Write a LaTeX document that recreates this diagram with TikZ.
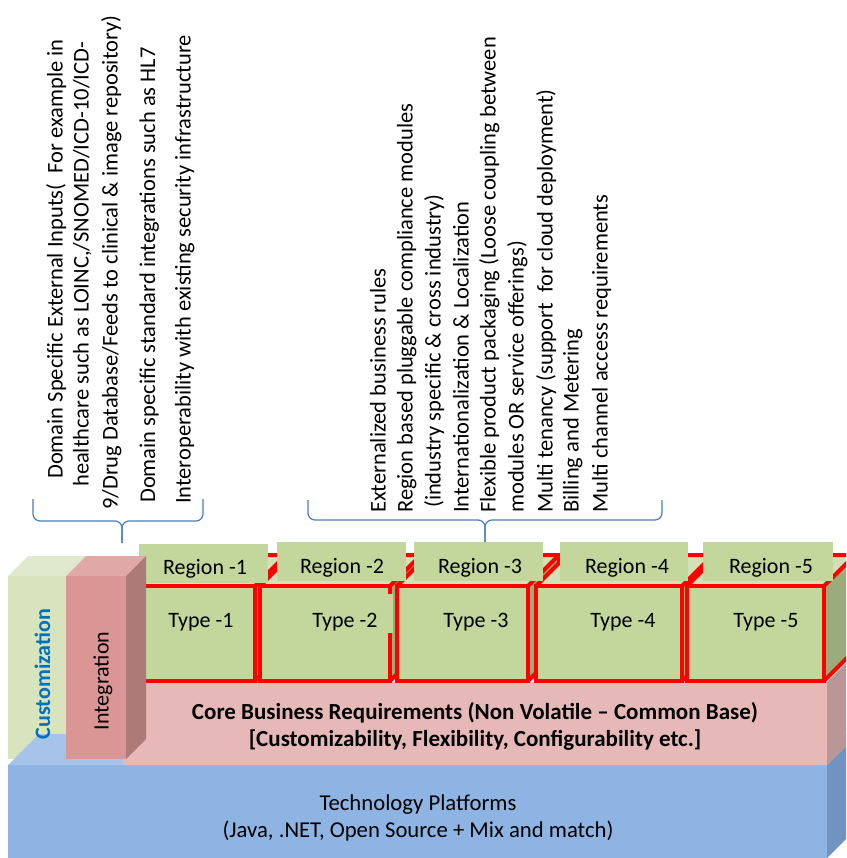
\documentclass[tikz,border=0pt]{standalone}
\usepackage{fontspec}
\setmainfont{Carlito}
\definecolor{gfront}{HTML}{C3D69B}
\definecolor{gtop}{HTML}{D3E1B6}
\definecolor{gside}{HTML}{9BAB7A}
\definecolor{custfront}{HTML}{D7E4BD}
\definecolor{custtop}{HTML}{E0E9CE}
\definecolor{intfront}{HTML}{D99694}
\definecolor{inttop}{HTML}{E0A9A7}
\definecolor{intside}{HTML}{AE7A77}
\definecolor{pinkfront}{HTML}{E6B9B8}
\definecolor{pinkside}{HTML}{B99796}
\definecolor{bluefront}{HTML}{8EB4E3}
\definecolor{bluetop}{HTML}{A6C3EA}
\definecolor{blueside}{HTML}{7093BF}
\definecolor{bracecol}{HTML}{4A7EBB}
\definecolor{custtext}{HTML}{0070C0}
\tikzset{
  redline/.style={draw=red, line width=4pt, line join=miter},
  vtext/.style={rotate=90, anchor=base west, inner sep=0pt, font=\fontsize{22.5}{27}\selectfont},
  lbl/.style={anchor=base, inner sep=0pt, font=\fontsize{22}{26}\selectfont},
  techlbl/.style={anchor=base, inner sep=0pt, font=\fontsize{22.7}{27}\selectfont},
  boldlbl/.style={anchor=base, inner sep=0pt, font=\bfseries\fontsize{23}{27}\selectfont},
  bracestyle/.style={draw=bracecol, line width=1.2pt, rounded corners=7pt}
}
\begin{document}
\begin{tikzpicture}[x=1pt,y=-1pt]
\useasboundingbox (0,0) rectangle (846,858);
\begin{scope}
\clip (0,0) rectangle (846,858);
% Customization pillar
\fill[custtop] (8,576) -- (28,556) -- (86,556) -- (66,576) -- cycle;
\fill[custfront] (8,576) rectangle (66,759);
% Technology platform block
\fill[bluefront] (8,765) rectangle (827,858);
\fill[bluetop] (8,765) -- (39,734) -- (858,734) -- (827,765) -- cycle;
\fill[blueside] (827,765) -- (858,734) -- (858,827) -- (827,858) -- cycle;
% Core business block
\fill[pinkfront] (123,682) rectangle (827,765);
\fill[pinkside] (827,682) -- (858,651) -- (858,734) -- (827,765) -- cycle;
% Type cubes
\foreach \l/\r in {139/255, 260/390, 397/528, 536/682, 687/824} {
  \fill[gside] (\r,586) -- (\r+31,555) -- (\r+31,650) -- (\r,681) -- cycle;
  \fill[gtop] (\l,586) -- (\l+31,555) -- (\r+31,555) -- (\r,586) -- cycle;
  \fill[gfront] (\l,586) rectangle (\r,681);
  \draw[redline] (\l,586) rectangle (\r,681);
  \draw[redline] (\l,586) -- (\l+31,555) -- (\r+31,555) -- (\r+31,650) -- (\r,681);
  \draw[redline] (\r,586) -- (\r+31,555);
}
\fill[gfront] (386,594) rectangle (393,633);
% Region label boxes
\fill[gfront] (139,544) rectangle (268,583);
\fill[gfront] (277,542) rectangle (406,581);
\fill[gfront] (414,542) rectangle (543,581);
\fill[gfront] (560,542) rectangle (688,581);
\fill[gfront] (703,542) rectangle (833,581);
% Integration pillar
\fill[inttop] (66,576) -- (86,556) -- (146,556) -- (126,576) -- cycle;
\fill[intfront] (66,576) rectangle (126,759);
\fill[intside] (126,576) -- (146,556) -- (146,739) -- (126,759) -- cycle;
\end{scope}

% Labels on blocks
\node[lbl] (r1) at (205,574) {Region -1};
\node[lbl] (r2) at (342,573) {Region -2};
\node[lbl] (r3) at (480,573) {Region -3};
\node[lbl] (r4) at (627,573) {Region -4};
\node[lbl] (r5) at (771,573) {Region -5};
\node[lbl] (t1) at (201,627) {Type -1};
\node[lbl] (t2) at (345,627) {Type -2};
\node[lbl] (t3) at (476,627) {Type -3};
\node[lbl] (t4) at (623,627) {Type -4};
\node[lbl] (t5) at (766,627) {Type -5};
\node[boldlbl] (core1) at (475,719) {Core Business Requirements (Non Volatile – Common Base)};
\node[boldlbl] (core2) at (475,746) {[Customizability, Flexibility, Configurability etc.]};
\node[techlbl] (tech1) at (418,810) {Technology Platforms};
\node[techlbl] (tech2) at (418,837) {(Java, .NET, Open Source + Mix and match)};
\node[rotate=90, inner sep=0pt, text=custtext, font=\bfseries\fontsize{22}{26}\selectfont] (cust) at (42.5,674) {Customization};
\node[rotate=90, inner sep=0pt, font=\fontsize{22}{26}\selectfont] (integ) at (103,681) {Integration};

% Left group of notes
\node[vtext] (n1) at (62.5,479) {Domain Specific External Inputs(\ \ For example in};
\node[vtext] (n2) at (88.5,487) {healthcare such as LOINC,/SNOMED/ICD-10/ICD-};
\node[vtext] (n3) at (117.5,510) {9/Drug Database/Feeds to clinical \& image repository)};
\node[vtext] (n4) at (155,503) {Domain specific standard integrations such as HL7};
\node[vtext] (n5) at (190.5,504) {Interoperability with existing security infrastructure};

% Right group of notes
\node[vtext] (m1) at (385.5,513) {Externalized business rules};
\node[vtext] (m2) at (412.5,513) {Region based pluggable compliance modules};
\node[vtext] (m3) at (440.5,508) {(industry specific \& cross industry)};
\node[vtext] (m4) at (468.5,513) {Internationalization \& Localization};
\node[vtext] (m5) at (495.5,513) {Flexible product packaging (Loose coupling between};
\node[vtext] (m6) at (523.5,513) {modules OR service offerings)};
\node[vtext] (m7) at (552.5,513) {Multi tenancy (support\ \ for cloud deployment)};
\node[vtext] (m8) at (578.5,513) {Billing and Metering};
\node[vtext] (m9) at (607.5,513) {Multi channel access requirements};

% Braces
\coordinate (lbA) at (33,499);
\coordinate (lbB) at (203,499);
\coordinate (lbT) at (122,543);
\coordinate (lbM) at (122,521);
\draw[bracestyle] (lbA) |- (lbM) -- (lbT);
\draw[bracestyle] (lbB) |- (lbM) -- (lbT);
\coordinate (rbA) at (308,500);
\coordinate (rbB) at (662,500);
\coordinate (rbT) at (485,542);
\coordinate (rbM) at (485,520);
\draw[bracestyle] (rbA) |- (rbM) -- (rbT);
\draw[bracestyle] (rbB) |- (rbM) -- (rbT);
\end{tikzpicture}
\end{document}
